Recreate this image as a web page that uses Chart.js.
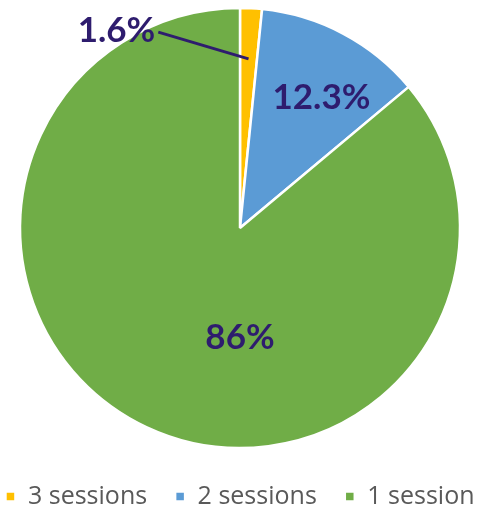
<!DOCTYPE html>
<html>
	<head>
		<meta charset="UTF-8" />
		<title>Sessions</title>
		<style type="text/css">
html, body { margin: 0; padding: 0; background: #fff; overflow: hidden; }
.chartBox { width: 540px; height: 506px; margin-left: -30px; }
		</style>
	</head>
	<body>
		<script src="https://cdn.jsdelivr.net/npm/chart.js@4/dist/chart.umd.min.js"></script>
		<div class="chartBox">
			<canvas id="myChart"></canvas>
		</div>
		<script charset="utf-8">
			const labels = ['3 sessions', '2 sessions', '1 session'];
			const values = [1.6, 12.3, 86];
			const valueText = ['1.6%', '12.3%', '86%'];
			const colors = ['#FFC000', '#5B9BD5', '#70AD47'];

			// draws the percent labels, the small slice gets a leader line
			const pctLabels = {
				id: 'pctLabels',
				afterDatasetsDraw(chart) {
					const ctx = chart.ctx;
					const arcs = chart.getDatasetMeta(0).data;
					ctx.save();
					ctx.fillStyle = '#2E1C6E';
					ctx.strokeStyle = '#2E1C6E';
					ctx.font = 'bold 35px Lato';
					ctx.textBaseline = 'middle';
					arcs.forEach((arc, i) => {
						const p = arc.getProps(['x', 'y', 'startAngle', 'endAngle', 'outerRadius']);
						const mid = (p.startAngle + p.endAngle) / 2;
						const r = p.outerRadius;
						if (i === 0) {
							const ex = p.x + Math.cos(mid) * r * 0.77;
							const ey = p.y + Math.sin(mid) * r * 0.77;
							const tx = p.x - r * 0.385;
							const ty = p.y - r * 0.895;
							ctx.lineWidth = 3;
							ctx.beginPath();
							ctx.moveTo(tx + 3, ty + 1);
							ctx.lineTo(ex, ey);
							ctx.stroke();
							ctx.textAlign = 'right';
							ctx.fillText(valueText[i], tx, ty);
						} else if (i === 1) {
							ctx.textAlign = 'center';
							ctx.fillText(valueText[i], p.x + Math.cos(mid + 0.07) * r * 0.70, p.y + Math.sin(mid + 0.07) * r * 0.70);
						} else {
							ctx.textAlign = 'center';
							ctx.fillText(valueText[i], p.x, p.y + r * 0.5);
						}
					});
					ctx.restore();
				}
			};

			const data = {
				labels: labels,
				datasets: [{
					data: values,
					backgroundColor: colors,
					borderColor: '#ffffff',
					borderWidth: 2.5,
					radius: 220
				}]
			};

			const config = {
				type: 'pie',
				data,
				plugins: [pctLabels],
				options: {
					responsive: true,
					maintainAspectRatio: false,
					animation: false,
					layout: { padding: { top: 0, left: 0, right: 0, bottom: -13 } },
					plugins: {
						tooltip: { enabled: false },
						legend: {
							position: 'bottom',
							labels: {
								color: '#595959',
								font: { family: 'Open Sans', size: 25 },
								boxWidth: 10,
								boxHeight: 10,
								padding: 28
							}
						}
					}
				}
			};

			var ctx = document.getElementById('myChart').getContext('2d');
			var myChart = new Chart(ctx, config);
		</script>
	</body>
</html>
